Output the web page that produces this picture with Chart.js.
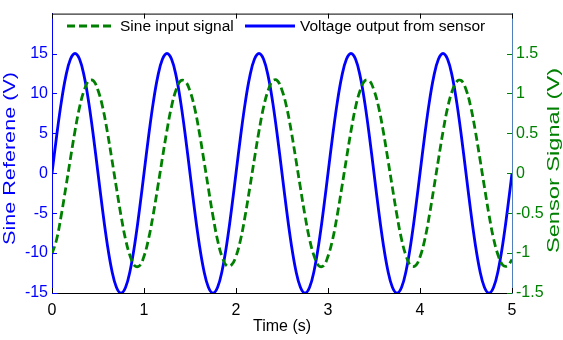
<!DOCTYPE html>
<html>
<head>
<meta charset="utf-8">
<script src="https://cdn.jsdelivr.net/npm/chart.js@4/dist/chart.umd.min.js"></script>
<style>
html,body{margin:0;padding:0;background:#fff;}
canvas{display:block;}
</style>
</head>
<body>
<canvas id="c" width="563" height="340"></canvas>
<script>
// ---- data ----
const time = [0,0.05,0.1,0.15,0.2,0.25,0.3,0.35,0.4,0.45,0.5,0.55,0.6,0.65,0.7,0.75,0.8,0.85,0.9,0.95,
1,1.05,1.1,1.15,1.2,1.25,1.3,1.35,1.4,1.45,1.5,1.55,1.6,1.65,1.7,1.75,1.8,1.85,1.9,1.95,
2,2.05,2.1,2.15,2.2,2.25,2.3,2.35,2.4,2.45,2.5,2.55,2.6,2.65,2.7,2.75,2.8,2.85,2.9,2.95,
3,3.05,3.1,3.15,3.2,3.25,3.3,3.35,3.4,3.45,3.5,3.55,3.6,3.65,3.7,3.75,3.8,3.85,3.9,3.95,
4,4.05,4.1,4.15,4.2,4.25,4.3,4.35,4.4,4.45,4.5,4.55,4.6,4.65,4.7,4.75,4.8,4.85,4.9,4.95,5];

// Voltage output from sensor (left axis, V)
const voltageOutput = [0,4.64,8.82,12.14,14.27,15,14.27,12.14,8.82,4.64,0,-4.64,-8.82,-12.14,-14.27,-15,-14.27,-12.14,-8.82,-4.64,
0,4.64,8.82,12.14,14.27,15,14.27,12.14,8.82,4.64,0,-4.64,-8.82,-12.14,-14.27,-15,-14.27,-12.14,-8.82,-4.64,
0,4.64,8.82,12.14,14.27,15,14.27,12.14,8.82,4.64,0,-4.64,-8.82,-12.14,-14.27,-15,-14.27,-12.14,-8.82,-4.64,
0,4.64,8.82,12.14,14.27,15,14.27,12.14,8.82,4.64,0,-4.64,-8.82,-12.14,-14.27,-15,-14.27,-12.14,-8.82,-4.64,
0,4.64,8.82,12.14,14.27,15,14.27,12.14,8.82,4.64,0,-4.64,-8.82,-12.14,-14.27,-15,-14.27,-12.14,-8.82,-4.64,0];

// Sine input signal (right axis, V)
const sineInput = [-1.01,-0.83,-0.53,-0.18,0.18,0.53,0.83,1.04,1.16,1.16,1.04,0.83,0.53,0.18,-0.18,-0.53,-0.83,-1.04,-1.16,-1.16,
-1.04,-0.82,-0.52,-0.17,0.19,0.54,0.84,1.05,1.16,1.15,1.03,0.82,0.52,0.17,-0.19,-0.54,-0.84,-1.05,-1.16,-1.15,
-1.04,-0.83,-0.53,-0.18,0.18,0.53,0.83,1.04,1.16,1.16,1.04,0.83,0.53,0.18,-0.18,-0.53,-0.83,-1.04,-1.16,-1.16,
-1.04,-0.83,-0.53,-0.18,0.18,0.53,0.83,1.04,1.16,1.16,1.04,0.83,0.53,0.18,-0.18,-0.53,-0.83,-1.04,-1.16,-1.16,
-1.05,-0.84,-0.54,-0.19,0.17,0.52,0.82,1.03,1.15,1.16,1.05,0.84,0.54,0.19,-0.17,-0.52,-0.82,-1.03,-1.15,-1.16,-1.08];

const xTicks = [0,1,2,3,4,5];
const leftTicks = [-15,-10,-5,0,5,10,15];
const rightTicks = [-1.5,-1,-0.5,0,0.5,1,1.5];

const seriesNames = ['Sine input signal','Voltage output from sensor'];
const axisTitles = {x:'Time (s)', y:'Sine Referene (V)', y2:'Sensor Signal (V)'};

// ---- styling ----
const FONT = "'Liberation Sans', Arial, sans-serif";
const BLUE = '#0000ff';
const GREEN = '#008000';
const SPINE_R = '#4f7fbf';

const pts = (ys) => time.map((t,i)=>({x:t,y:ys[i]}));

const overlay = {
  id:'overlay',
  afterDraw(chart){
    const {ctx, chartArea:a, scales} = chart;
    ctx.save();
    ctx.lineWidth = 1;
    // top border
    ctx.strokeStyle = '#000';
    ctx.beginPath(); ctx.moveTo(a.left, a.top+0.5); ctx.lineTo(a.right, a.top+0.5); ctx.stroke();
    // x ticks (inward, bottom and top)
    xTicks.forEach(v=>{
      const px = Math.round(scales.x.getPixelForValue(v))+0.5;
      ctx.beginPath();
      ctx.moveTo(px, a.bottom); ctx.lineTo(px, a.bottom-5);
      ctx.moveTo(px, a.top); ctx.lineTo(px, a.top+5);
      ctx.stroke();
    });
    // left ticks
    ctx.strokeStyle = BLUE;
    leftTicks.forEach(v=>{
      const py = Math.round(scales.y.getPixelForValue(v))+0.5;
      ctx.beginPath(); ctx.moveTo(a.left, py); ctx.lineTo(a.left+5, py); ctx.stroke();
    });
    // right ticks
    ctx.strokeStyle = GREEN;
    rightTicks.forEach(v=>{
      const py = Math.round(scales.y2.getPixelForValue(v))+0.5;
      ctx.beginPath(); ctx.moveTo(a.right, py); ctx.lineTo(a.right-5, py); ctx.stroke();
    });

    // legend (inside plot, no box)
    const ly = 26;
    ctx.font = '15.5px ' + FONT;
    ctx.textBaseline = 'middle';
    ctx.textAlign = 'left';
    ctx.lineWidth = 2.8;
    ctx.strokeStyle = GREEN;
    ctx.setLineDash([8,4]);
    ctx.beginPath(); ctx.moveTo(67, ly); ctx.lineTo(115, ly); ctx.stroke();
    ctx.setLineDash([]);
    ctx.fillStyle = '#000';
    ctx.fillText(seriesNames[0], 120, ly+1);
    ctx.strokeStyle = BLUE;
    ctx.beginPath(); ctx.moveTo(245, ly); ctx.lineTo(295, ly); ctx.stroke();
    ctx.fillText(seriesNames[1], 300, ly+1);

    // x title
    ctx.font = '16px ' + FONT;
    ctx.textAlign = 'center';
    ctx.textBaseline = 'alphabetic';
    ctx.fillText(axisTitles.x, (a.left+a.right)/2, 331);

    // rotated y titles (stretched along their length like the reference)
    const drawV = (txt, x, y, len, color) => {
      ctx.save();
      ctx.fillStyle = color;
      ctx.font = '16px ' + FONT;
      const w = ctx.measureText(txt).width;
      ctx.translate(x, y);
      ctx.rotate(-Math.PI/2);
      ctx.scale(len/w, 1);
      ctx.textAlign = 'center';
      ctx.textBaseline = 'alphabetic';
      ctx.fillText(txt, 0, 0);
      ctx.restore();
    };
    drawV(axisTitles.y, 14.5, 158.5, 173, BLUE);
    drawV(axisTitles.y2, 558.5, 160.5, 185, GREEN);
    ctx.restore();
  }
};

new Chart(document.getElementById('c'), {
  type:'line',
  data:{
    datasets:[
      {label:seriesNames[0], data:pts(sineInput), yAxisID:'y2', borderColor:GREEN, borderWidth:2.8,
       borderDash:[8,4], pointRadius:0, tension:0.4, fill:false},
      {label:seriesNames[1], data:pts(voltageOutput), yAxisID:'y', borderColor:BLUE, borderWidth:2.8,
       pointRadius:0, tension:0.4, fill:false}
    ]
  },
  options:{
    responsive:false,
    animation:false,
    devicePixelRatio:1,
    layout:{padding:{top:3,left:0,right:0,bottom:0}},
    plugins:{legend:{display:false}, tooltip:{enabled:false}},
    scales:{
      x:{type:'linear', position:'bottom', min:0, max:5,
         afterBuildTicks(s){ s.ticks = xTicks.map(v=>({value:v})); },
         ticks:{color:'#000', padding:8, font:{family:FONT, size:16}, maxRotation:0, autoSkip:false},
         grid:{display:false, drawTicks:false},
         border:{display:true, color:'#000', width:1},
         afterFit(s){ s.height = 47; }},
      y:{type:'linear', position:'left', min:-15, max:20,
         afterBuildTicks(s){ s.ticks = leftTicks.map(v=>({value:v})); },
         ticks:{color:BLUE, padding:4, font:{family:FONT, size:16}, autoSkip:false},
         grid:{display:false, drawTicks:false},
         border:{display:true, color:BLUE, width:1},
         afterFit(s){ s.width = 52; }},
      y2:{type:'linear', position:'right', min:-1.5, max:2.0,
         afterBuildTicks(s){ s.ticks = rightTicks.map(v=>({value:v})); },
         ticks:{color:GREEN, padding:4, font:{family:FONT, size:16}, autoSkip:false,
                callback:(v)=>String(v)},
         grid:{display:false, drawTicks:false},
         border:{display:true, color:SPINE_R, width:1},
         afterFit(s){ s.width = 51; }}
    }
  },
  plugins:[overlay]
});
</script>
</body>
</html>
